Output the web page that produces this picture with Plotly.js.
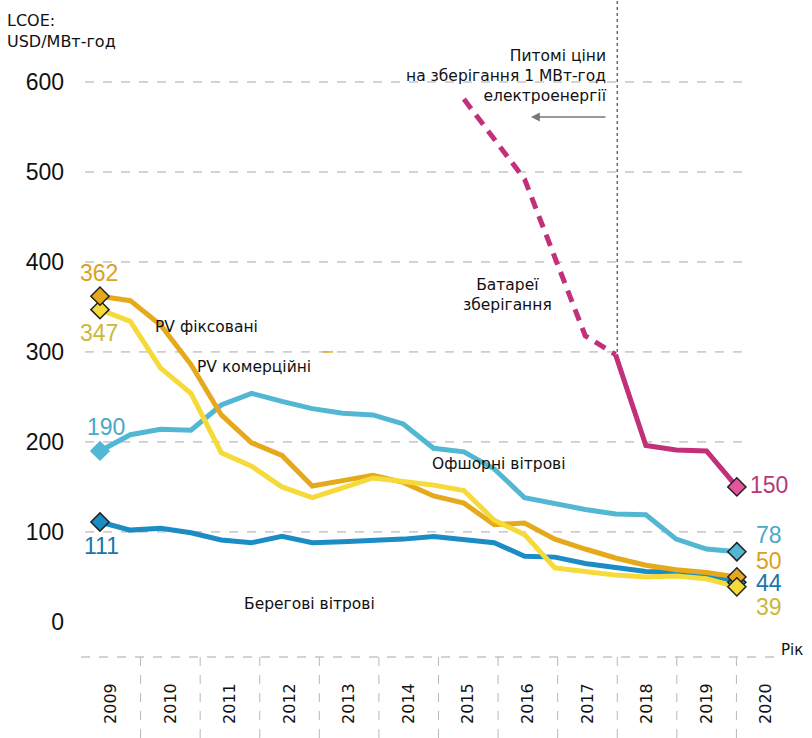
<!DOCTYPE html>
<html>
<head>
<meta charset="utf-8">
<script src="https://cdn.plot.ly/plotly-3.0.1.min.js"></script>
<style>html,body{margin:0;padding:0;background:#fff;}#chart{width:812px;height:738px;}</style>
</head>
<body>
<div id="chart"></div>
<script>
// ---------- DATA ----------
const years = [2009, 2010, 2011, 2012, 2013, 2014, 2015, 2016, 2017, 2018, 2019, 2020];
const periods = ['H1 2009','H2 2009','H1 2010','H2 2010','H1 2011','H2 2011','H1 2012','H2 2012',
                 'H1 2013','H2 2013','H1 2014','H2 2014','H1 2015','H2 2015','H1 2016','H2 2016',
                 'H1 2017','H2 2017','H1 2018','H2 2018','H1 2019','H2 2019'];
const pvFixed      = [362, 357, 330, 286, 230, 199, 185, 151, 157, 163, 155, 140, 132, 108, 110, 92, 81, 71, 63, 58, 55, 50];
const pvCommercial = [347, 334, 282, 254, 188, 173, 150, 138, 149, 160, 156, 152, 146, 113, 97, 60, 56, 52, 50, 51, 48, 39];
const offshoreWind = [190, 208, 214, 213, 241, 254, 245, 237, 232, 230, 220, 193, 189, 170, 138, 131, 125, 120, 119, 92, 81, 78];
const onshoreWind  = [111, 102, 104, 99, 91, 88, 95, 88, 89, 90, 92, 95, 92, 88, 73, 72, 65, 60, 56, 55, 52, 44];
const batteryPeriodsEst = ['H1 2015','H1 2016','H1 2017','H2 2017'];
const batteryEst        = [581, 492, 318, 297];
const batteryPeriods    = ['H2 2017','H1 2018','H2 2018','H1 2019','H2 2019'];
const battery           = [297, 196, 191, 190, 150];
const yTicks = [0, 100, 200, 300, 400, 500, 600];

// ---------- LAYOUT HELPERS ----------
const W = 812, H = 738, ML = 81, MR = 16, MT = 10, MB = 81;
const PW = W - ML - MR, PH = H - MT - MB;
const px = x => (x - ML) / PW;
const py = y => (H - MB - y) / PH;

const C = {
  orange: '#E6A91B', yellow: '#F6DA3A', offshore: '#52B7D3', onshore: '#1B8CC4', battery: '#C2307A',
  tOrange: '#D9A21E', tYellow: '#C9B93C', tOff: '#4BA9C3', tOn: '#1976AD', tBat: '#B6387A'
};
const txtFont = {family: 'DejaVu Sans, Verdana, sans-serif', size: 15.5, color: '#111'};
const numFont = (c) => ({family: 'Liberation Sans, Arial, sans-serif', size: 23, color: c});

function lineTrace(xs, ys, color, dash) {
  return {x: xs, y: ys, xaxis: 'x2', yaxis: 'y', type: 'scatter', mode: 'lines',
          line: {color: color, width: 5, dash: dash || 'solid'}, hoverinfo: 'skip', showlegend: false};
}
function markerTrace(xs, ys, color, outline) {
  return {x: xs, y: ys, xaxis: 'x2', yaxis: 'y', type: 'scatter', mode: 'markers',
          marker: {symbol: 'diamond', size: 14, color: color, line: {color: outline ? '#222' : color, width: 1.5}},
          hoverinfo: 'skip', showlegend: false};
}
const first = periods[0], last = periods[periods.length - 1];
const traces = [
  lineTrace(periods, onshoreWind, C.onshore),
  lineTrace(periods, offshoreWind, C.offshore),
  lineTrace(periods, pvFixed, C.orange),
  lineTrace(periods, pvCommercial, C.yellow),
  lineTrace(batteryPeriodsEst, batteryEst, C.battery, '12px,8px'),
  lineTrace(batteryPeriods, battery, C.battery),
  markerTrace([first], [offshoreWind[0]], C.offshore, false),
  markerTrace([first], [onshoreWind[0]], C.onshore, true),
  markerTrace([first], [pvCommercial[0]], C.yellow, true),
  markerTrace([first], [pvFixed[0]], C.orange, true),
  markerTrace([last], [onshoreWind[21]], C.onshore, true),
  markerTrace([last], [offshoreWind[21]], C.offshore, true),
  markerTrace([last], [pvFixed[21]], C.orange, true),
  markerTrace([last], [pvCommercial[21]], C.yellow, true),
  markerTrace([batteryPeriods[batteryPeriods.length-1]], [battery[battery.length-1]], '#E4559B', true)
];

// ---------- SHAPES ----------
const shapes = [];
yTicks.filter(v => v > 0).forEach(v => shapes.push({type: 'line', xref: 'paper', yref: 'y',
  x0: px(85), x1: px(751), y0: v, y1: v, line: {color: '#a8a8a8', width: 1, dash: 'dash'}, layer: 'below'}));
shapes.push({type: 'line', xref: 'paper', yref: 'paper', x0: 0, x1: px(775), y0: 0, y1: 0,
  line: {color: '#a8a8a8', width: 1.2, dash: 'dash'}});
years.slice(0, -1).forEach(y => shapes.push({type: 'line', xref: 'x', yref: 'paper',
  x0: y + 0.5, x1: y + 0.5, y0: 0, y1: py(738), line: {color: '#b8b8b8', width: 1, dash: 'dash'}}));
shapes.push({type: 'line', xref: 'x', yref: 'paper', x0: 2017.5, x1: 2017.5, y0: py(352), y1: py(0),
  line: {color: '#555', width: 1.3, dash: 'dot'}});
shapes.push({type: 'line', xref: 'paper', yref: 'y', x0: px(323), x1: px(333), y0: 300, y1: 300,
  line: {color: C.orange, width: 1.5}});

// ---------- ANNOTATIONS ----------
const ann = [];
function txt(text, x, y, font, xanchor, align) {
  ann.push({text: text, xref: 'paper', yref: 'paper', x: px(x), y: py(y), showarrow: false,
    xanchor: xanchor || 'left', yanchor: 'middle', align: align || 'left', font: font});
}
txt('LCOE:<br>USD/МВт-год', 5, 31, {family: 'DejaVu Sans, Verdana, sans-serif', size: 16, color: '#111'});
txt('Питомі ціни<br>на зберігання 1 МВт-год<br>електроенергії', 609, 76, txtFont, 'right', 'right');
txt('PV фіксовані', 153, 327, txtFont);
txt('PV комерційні', 195, 367, txtFont);
txt('Офшорні вітрові', 430, 464, txtFont);
txt('Берегові вітрові', 242, 604, txtFont);
txt('Батареї<br>зберігання', 507, 295, txtFont, 'center', 'center');
txt('Рік', 779, 650, {family: 'DejaVu Sans, Verdana, sans-serif', size: 15, color: '#111'});
txt('362', 99, 273, numFont(C.tOrange), 'center');
txt('347', 99, 333, numFont(C.tYellow), 'center');
txt('190', 106, 427, numFont(C.tOff), 'center');
txt('111', 101, 546, numFont(C.tOn), 'center');
txt('150', 748, 485, numFont(C.tBat));
txt('78', 754, 535, numFont(C.tOff));
txt('50', 754, 561, numFont(C.tOrange));
txt('44', 754, 583, numFont(C.tOn));
txt('39', 754, 607, numFont(C.tYellow));
ann.push({text: '', xref: 'paper', yref: 'paper', x: px(531), y: py(117), ax: 76, ay: 0,
  showarrow: true, arrowhead: 2, arrowsize: 1.1, arrowwidth: 1.6, arrowcolor: '#777'});

const layout = {
  width: W, height: H, margin: {l: ML, r: MR, t: MT, b: MB},
  paper_bgcolor: '#fff', plot_bgcolor: '#fff', showlegend: false,
  xaxis: {range: [2008.5, 2020.5], tickvals: years, ticktext: years.map(String), tickangle: -90,
    showgrid: false, zeroline: false, showline: false, ticks: '', ticklabelstandoff: 22,
    tickfont: {family: 'DejaVu Sans, Verdana, sans-serif', size: 16, color: '#111'}, fixedrange: true},
  xaxis2: {overlaying: 'x', type: 'category', range: [-0.626, 22.95], visible: false, fixedrange: true},
  yaxis: {range: [-39, 680], tickvals: yTicks, ticktext: yTicks.map(String), showgrid: false,
    zeroline: false, showline: false, ticks: '', ticklabelstandoff: 16,
    tickfont: {family: 'Liberation Sans, Arial, sans-serif', size: 23, color: '#111'}, fixedrange: true},
  shapes: shapes, annotations: ann
};
Plotly.newPlot('chart', traces, layout, {displayModeBar: false, staticPlot: true});
</script>
</body>
</html>
